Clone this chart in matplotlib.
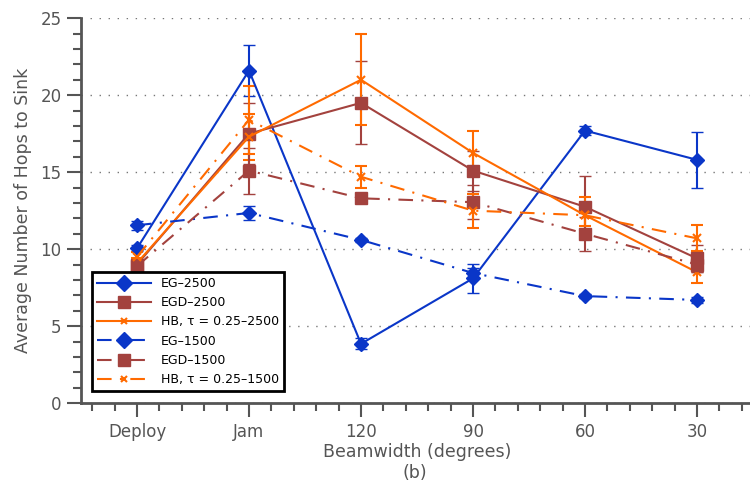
import matplotlib
matplotlib.use("Agg")
import matplotlib.pyplot as plt
from matplotlib.lines import Line2D
from matplotlib.ticker import MultipleLocator

# Beamwidth settings along the x axis
categories = ["Deploy", "Jam", "120", "90", "60", "30"]

# Mean hop counts and error half-widths per scheme
eg_2500 = [10.05, 21.6, 3.85, 8.1, 17.7, 15.8]
eg_2500_err = [0.2, 1.65, 0.35, 0.95, 0.3, 1.8]
egd_2500 = [9.0, 17.5, 19.5, 15.1, 12.75, 9.4]
egd_2500_err = [0.3, 2.0, 2.7, 1.3, 2.0, 0.9]
hb_2500 = [9.1, 17.3, 21.0, 16.25, 12.2, 8.5]
hb_2500_err = [0.3, 1.5, 2.95, 1.4, 1.2, 0.7]
eg_1500 = [11.55, 12.35, 10.6, 8.45, 6.95, 6.7]
eg_1500_err = [0.3, 0.45, 0.15, 0.3, 0.15, 0.2]
egd_1500 = [8.9, 15.1, 13.3, 13.05, 11.0, 9.0]
egd_1500_err = [0.3, 1.5, 0.2, 1.1, 1.1, 0.5]
hb_1500 = [9.5, 18.4, 14.7, 12.5, 12.2, 10.7]
hb_1500_err = [0.3, 2.2, 0.7, 1.1, 0.7, 0.85]

labels = ["EG\u20132500", "EGD\u20132500", "HB, \u03c4 = 0.25\u20132500",
          "EG\u20131500", "EGD\u20131500", "HB, \u03c4 = 0.25\u20131500"]

BLUE = "#0A36C8"
BROWN = "#A3423E"
ORANGE = "#FF6A00"
GRAY = "#555555"

plt.rcParams["font.family"] = ["DejaVu Sans"]

fig = plt.figure(figsize=(7.5, 4.91), dpi=100)
ax = fig.add_axes([0.108, 0.179, 0.896, 0.784])

x = list(range(1, len(categories) + 1))
dashdot = (0, (7, 4, 1, 4))

series = [
    (eg_2500, eg_2500_err, BLUE, "D", 7, "-"),
    (egd_2500, egd_2500_err, BROWN, "s", 9, "-"),
    (hb_2500, hb_2500_err, ORANGE, "x", 6, "-"),
    (eg_1500, eg_1500_err, BLUE, "D", 7, dashdot),
    (egd_1500, egd_1500_err, BROWN, "s", 9, dashdot),
    (hb_1500, hb_1500_err, ORANGE, "x", 6, dashdot),
]

handles = []
for (vals, errs, color, marker, ms, ls), lab in zip(series, labels):
    mew = 1.5 if marker == "x" else 1.0
    ax.errorbar(x, vals, yerr=errs, color=color, ecolor=color,
                elinewidth=1.5, capsize=4, capthick=1.5,
                linestyle=ls, linewidth=1.5, marker=marker,
                markersize=ms, markeredgewidth=mew,
                markerfacecolor=color, markeredgecolor=color)
    # legend entry: line and marker only, no error bar
    leg_ms = {"D": 8, "s": 9, "x": 5}[marker]
    handles.append(Line2D([], [], color=color, linestyle=ls, linewidth=1.5,
                          marker=marker, markersize=leg_ms, markeredgewidth=mew,
                          markerfacecolor=color, markeredgecolor=color))

ax.set_xlim(0.5, 6.5)
ax.set_ylim(0, 25)
ax.set_xticks(x)
ax.set_xticklabels(categories)
ax.xaxis.set_minor_locator(MultipleLocator(0.2))
ax.yaxis.set_major_locator(MultipleLocator(5))
ax.yaxis.set_minor_locator(MultipleLocator(1))

ax.yaxis.grid(True, which="major", linestyle=(0, (1, 5.5)), linewidth=1.0, color="#777777")
ax.set_axisbelow(True)

for side in ("top", "right"):
    ax.spines[side].set_visible(False)
for side in ("left", "bottom"):
    ax.spines[side].set_color(GRAY)
    ax.spines[side].set_linewidth(2)

ax.tick_params(which="major", direction="out", length=10, width=1.5, color=GRAY,
               labelcolor=GRAY, labelsize=12, pad=4)
ax.tick_params(which="minor", direction="out", length=6, width=1.5, color=GRAY)

ax.set_xlabel("Beamwidth (degrees)", fontsize=12.5, color=GRAY, labelpad=2)
ax.set_ylabel("Average Number of Hops to Sink", fontsize=12.5, color=GRAY, labelpad=6)
fig.text(0.553, 0.018, "(b)", fontsize=12.5, color=GRAY, ha="center", va="bottom")

leg = ax.legend(handles=handles, labels=labels, loc="lower left",
                bbox_to_anchor=(0.016, 0.031), borderaxespad=0, fontsize=9,
                handlelength=4.3, handletextpad=0.8, labelspacing=0.5,
                fancybox=False, framealpha=1, edgecolor="black",
                borderpad=0.4)
leg.get_frame().set_linewidth(2)

fig.savefig("out.png", dpi=100)
